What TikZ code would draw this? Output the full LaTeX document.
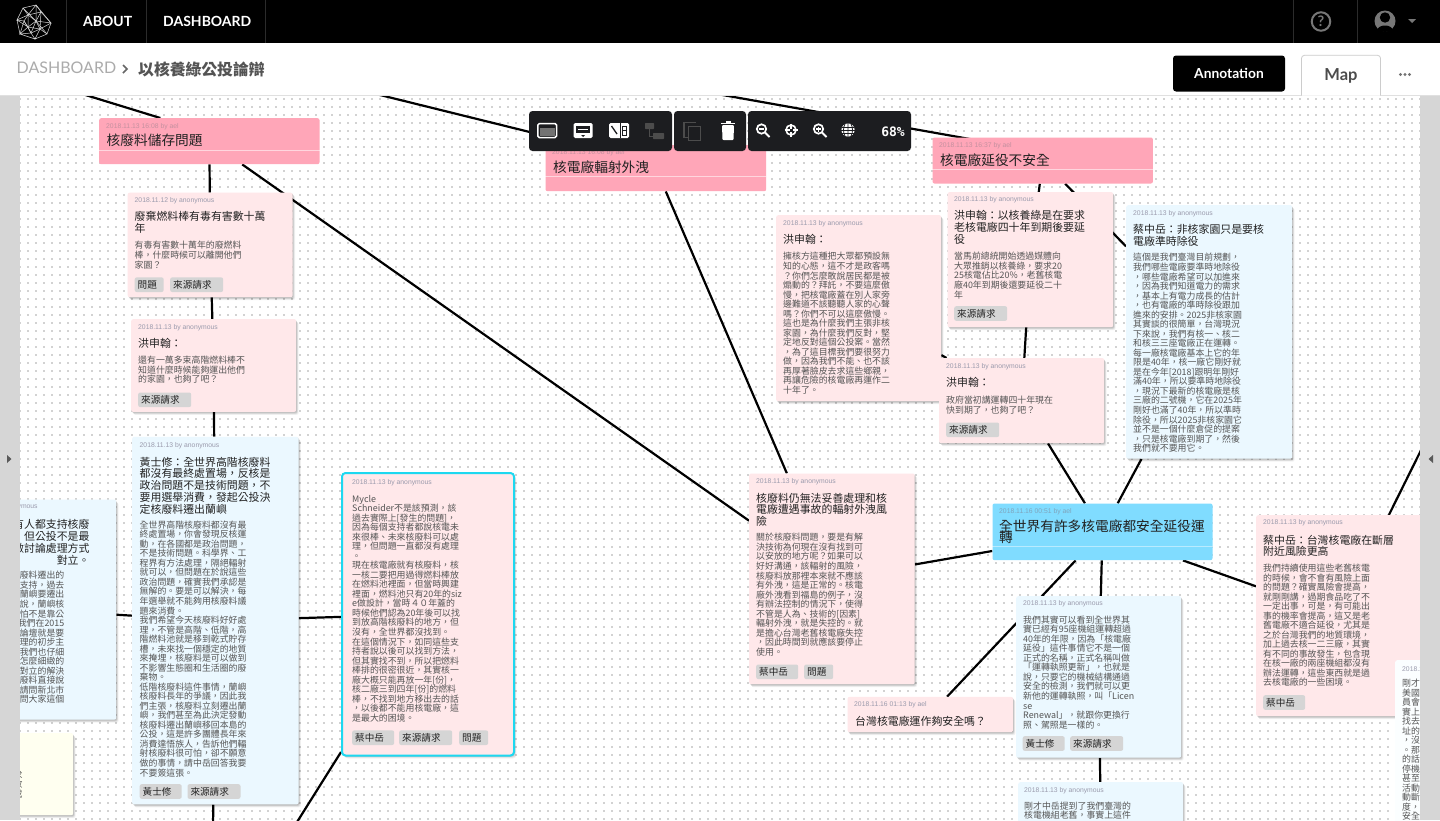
\documentclass[tikz,border=0pt]{standalone}
\usepackage{fontspec}
\setmainfont{Noto Sans CJK TC}
\newfontfamily\latof{Lato}
\newfontfamily\liberf{Liberation Sans}
\newfontfamily\monof{DejaVu Sans Mono}
\usetikzlibrary{shadows,backgrounds}
\newcommand{\tightls}{\lineskiplimit=-20pt\relax}
\definecolor{pinkcard}{HTML}{FFE8EA}
\definecolor{bluecard}{HTML}{EBF8FF}
\definecolor{yellowcard}{HTML}{FFFFF0}
\definecolor{whitecard}{HTML}{FBFEFF}
\definecolor{pinkhead}{HTML}{FFA6B8}
\definecolor{bluehead}{HTML}{80DCFF}
\definecolor{selcyan}{HTML}{1DD8F0}
\definecolor{datecol}{HTML}{9A9AAC}
\definecolor{bodycol}{HTML}{555555}
\definecolor{titlecol}{HTML}{222222}
\definecolor{tagfill}{HTML}{D5D5D5}
\definecolor{toolbg}{HTML}{1C1D20}
\definecolor{sidebar}{HTML}{D6D6D6}
\definecolor{dotcol}{HTML}{D2D2D2}
\definecolor{navgray}{HTML}{777777}
\tikzset{
  softshadow/.style={
    general shadow={fill=black,opacity=.05,shadow xshift=2.4pt,shadow yshift=-3pt},
    general shadow={fill=black,opacity=.08,shadow xshift=1.6pt,shadow yshift=-2.2pt},
    general shadow={fill=black,opacity=.10,shadow xshift=1pt,shadow yshift=-1.4pt},
    general shadow={fill=black,opacity=.07,shadow xshift=.5pt,shadow yshift=-.5pt}},
  cardst/.style={rectangle,rounded corners=2pt,anchor=north west,inner sep=0pt,softshadow},
  headst/.style={rectangle,rounded corners=2pt,anchor=north west,inner sep=0pt},
  datest/.style={anchor=west,inner sep=0pt,text=datecol,font=\liberf\fontsize{6.8pt}{8pt}\selectfont},
  titlest/.style={anchor=north west,inner sep=0pt,align=left,text=titlecol,
    font=\fontsize{10.9pt}{11.7pt}\selectfont\tightls},
  bodyst/.style={anchor=north west,inner sep=0pt,align=left,text=bodycol,
    font=\fontsize{8.9pt}{9.53pt}\selectfont\tightls},
  headtitle/.style={anchor=north west,inner sep=0pt,align=left,text=titlecol,
    font=\fontsize{13.7pt}{11pt}\selectfont\tightls},
  tagst/.style={rectangle,rounded corners=2pt,fill=tagfill,anchor=north west,inner xsep=3pt,inner ysep=0pt,
    minimum height=14.6pt,align=left,text=titlecol,font=\fontsize{9.6pt}{10pt}\selectfont},
  conn/.style={line width=2.2pt,black},
}
% name x y w h fill
\newcommand{\cardbox}[6]{\node[cardst,fill=#6,minimum width=#4pt,minimum height=#5pt] (#1) at (#2,#3) {};}
\newcommand{\headbox}[6]{\node[headst,fill=#6,minimum width=#4pt,minimum height=#5pt] (#1) at (#2,#3) {};}
% name x yc text
\newcommand{\cdate}[4]{\node[datest] (#1) at (#2,#3) {#4};}
\newcommand{\ctitle}[4]{\node[titlest] (#1) at (#2,#3-5.5) {#4};}
\newcommand{\cbody}[4]{\node[bodyst] (#1) at (#2,#3-4.5) {#4};}
% name x y w text
\newcommand{\ctag}[5]{\node[tagst,text width=\dimexpr#4pt-6pt\relax] (#1) at (#2,#3) {#5};}
\begin{document}
\begin{tikzpicture}[x=1pt,y=-1pt]
\useasboundingbox (0,0) rectangle (1440,820);

% ---------- left cards ----------
\cardbox{left}{-50}{499.5}{166}{220}{bluecard}
\cdate{leftd}{2.3}{507.7}{anonymous}
\node[titlest,align=right,anchor=north east] (leftt) at (89.7,519.5) {有人都支持核廢\\，但公投不是最\\做討論處理方式\\對立。\hspace{4em}};
\node[bodyst,align=right,anchor=north east] (leftb) at (64.5,571.2) {廢料遷出的\\支持，過去\\蘭嶼要遷出\\說，蘭嶼核\\怕不是靠公\\我們在2015\\論壇就是要\\理的初步主\\我們也仔細\\怎麼細緻的\\對立的解決\\廢料直接說\\請問新北市\\問大家這個};
\cardbox{yellow}{-50}{733}{123}{82}{yellowcard}
\node[bodyst,align=right,anchor=north east] (yellowb) at (22.8,770.5) {求\\政\\或};

% ---------- heading nodes ----------
\headbox{hone}{99}{118}{220.3}{46}{pinkhead}
\cdate{honed}{106}{126.7}{\textcolor[HTML]{C4909F}{2018.11.13 16:08 by ael}}
\node[headtitle] (honet) at (106.5,134.2) {核廢料儲存問題};
\draw[white,opacity=.55,line width=.5pt] (hone.west |- 0,150) -- (hone.east |- 0,150);

\headbox{htwo}{545.3}{145}{220.7}{46}{pinkhead}
\cdate{htwod}{552}{153}{\textcolor[HTML]{C4909F}{2018.11.13 16:08 by ael}}
\node[headtitle] (htwot) at (553,160.5) {核電廠輻射外洩};
\draw[white,opacity=.55,line width=.5pt] (htwo.west |- 0,176.7) -- (htwo.east |- 0,176.7);

\headbox{hthree}{932.3}{137.3}{220.4}{46}{pinkhead}
\cdate{hthreed}{939}{145.7}{\textcolor[HTML]{C4909F}{2018.11.13 16:37 by ael}}
\node[headtitle] (hthreet) at (940,153.2) {核電廠延役不安全};
\draw[white,opacity=.55,line width=.5pt] (hthree.west |- 0,169.3) -- (hthree.east |- 0,169.3);

\headbox{hfour}{992.3}{503.3}{220}{56.7}{bluehead}
\cdate{hfourd}{999}{511.7}{\textcolor[HTML]{7FA4BC}{2018.11.16 00:51 by ael}}
\node[headtitle] (hfourt) at (999,519.9) {全世界有許多核電廠都安全延役運\\轉};
\draw[white,opacity=.45,line width=.5pt] (hfour.west |- 0,546) -- (hfour.east |- 0,546);

% ---------- column one ----------
\cardbox{cone}{127.5}{192.5}{165}{104.5}{pinkcard}
\cdate{coned}{134.5}{200.6}{2018.11.12 by anonymous}
\ctitle{conet}{134.5}{217}{廢棄燃料棒有毒有害數十萬\\年}
\cbody{coneb}{134.5}{245.7}{有毒有害數十萬年的廢燃料\\棒，什麼時候可以離開他們\\家園？}
\ctag{conea}{134.5}{277.2}{29}{問題}
\ctag{coneg}{170}{277.2}{53}{來源請求}

\cardbox{ctwo}{131}{319}{165}{92.7}{pinkcard}
\cdate{ctwod}{138}{327.3}{2018.11.13 by anonymous}
\ctitle{ctwot}{138}{344}{洪申翰：}
\cbody{ctwob}{138}{360.7}{還有一萬多束高階燃料棒不\\知道什麼時候能夠運出他們\\的家園，也夠了吧？}
\ctag{ctwog}{138}{392.3}{53}{來源請求}

\cardbox{cthree}{132}{436.7}{166.3}{367.5}{bluecard}
\cdate{cthreed}{139.5}{445.7}{2018.11.13 by anonymous}
\ctitle{cthreet}{139.5}{462.3}{黃士修：全世界高階核廢料\\都沒有最終處置場，反核是\\政治問題不是技術問題，不\\要用選舉消費，發起公投決\\定核廢料遷出蘭嶼}
\cbody{cthreeb}{139.5}{525}{全世界高階核廢料都沒有最\\終處置場，你會發現反核運\\動，在各國都是政治問題，\\不是技術問題。科學界、工\\程界有方法處理，隔絕輻射\\就可以，但問題在於說這些\\政治問題，確實我們承認是\\無解的。要是可以解決，每\\年選舉就不能夠用核廢料議\\題來消費。\\我們希望今天核廢料好好處\\理，不管是高階、低階，高\\階燃料池就是移到乾式貯存\\槽，未來找一個穩定的地質\\來掩埋，核廢料是可以做到\\不影響生態圈和生活圈的廢\\棄物。\\低階核廢料這件事情，蘭嶼\\核廢料長年的爭議，因此我\\們主張，核廢料立刻遷出蘭\\嶼，我們甚至為此決定發動\\核廢料遷出蘭嶼移回本島的\\公投，這是許多團體長年來\\消費達悟族人，告訴他們輻\\射核廢料很可怕，卻不願意\\做的事情，請中岳回答我要\\不要簽這張。}
\ctag{cthreea}{139.5}{784}{42}{黃士修}
\ctag{cthreeg}{187.3}{784}{53}{來源請求}

% ---------- selected card ----------
\node[cardst,fill=pinkcard,draw=selcyan,line width=2pt,rounded corners=3.5pt,minimum width=172pt,minimum height=282.5pt] (myc) at (341,472) {};
\cdate{mycd}{352}{483}{2018.11.13 by anonymous}
\cbody{mycb}{352}{499.3}{Mycle\\Schneider不是該預測，該\\過去實際上[發生的問題]，\\因為每個支持者都說核電未\\來很棒、未來核廢料可以處\\理，但問題一直都沒有處理\\。\\現在核電廠就有核廢料，核\\一核二要把用過得燃料棒放\\在燃料池裡面，但當時興建\\裡面，燃料池只有20年的siz\\e做設計，當時４０年蓋的\\時候他們認為20年後可以找\\到放高階核廢料的地方，但\\沒有，全世界都沒找到。\\在這個情況下，如同這些支\\持者說以後可以找到方法，\\但其實找不到，所以把燃料\\棒排的很密很近，其實核一\\廠大概只能再放一年[份]，\\核二廠三到四年[份]的燃料\\棒，不找到地方移出去的話\\，以後都不能用核電廠，這\\是最大的困境。}
\ctag{myca}{352}{730.2}{42}{蔡中岳}
\ctag{mycg}{399}{730.2}{53}{來源請求}
\ctag{mycq}{459}{730.2}{29}{問題}

% ---------- middle ----------
\cardbox{kf}{749}{473.3}{165.5}{210.7}{pinkcard}
\cdate{kfd}{756}{481.7}{2018.11.13 by anonymous}
\ctitle{kft}{756}{498.3}{核廢料仍無法妥善處理和核\\電廠遭遇事故的輻射外洩風\\險}
\cbody{kfb}{756}{537.7}{關於核廢料問題，要是有解\\決技術為何現在沒有找到可\\以安放的地方呢？如果可以\\好好溝通，該輻射的風險，\\核廢料放那裡本來就不應該\\有外洩，這是正常的。核電\\廠外洩看到福島的例子，沒\\有辦法控制的情況下，使得\\不管是人為、技術的[因素]\\輻射外洩，就是失控的。就\\是擔心台灣老舊核電廠失控\\，因此時間到就應該要停止\\使用。}
\ctag{kfa}{756}{664.3}{42}{蔡中岳}
\ctag{kfq}{804}{664.3}{29}{問題}

\cardbox{tw}{847.3}{696.7}{165.5}{35.3}{pinkcard}
\cdate{twd}{854}{705}{2018.11.16 01:13 by ael}
\ctitle{twt}{855}{721}{台灣核電廠運作夠安全嗎？}

\cardbox{lng}{776}{215}{165}{186}{pinkcard}
\cdate{lngd}{783}{223.3}{2018.11.13 by anonymous}
\ctitle{lngt}{783}{240}{洪申翰：}
\cbody{lngb}{783}{256.7}{擁核方這種把大眾都預設無\\知的心態，這不才是政客嗎\\？你們怎麼敢說居民都是被\\煽動的？拜託，不要這麼傲\\慢，把核電廠蓋在別人家旁\\邊難道不該聽聽人家的心聲\\嗎？你們不可以這麼傲慢。\\這也是為什麼我們主張非核\\家園，為什麼我們反對，堅\\定地反對這個公投案。當然\\，為了這目標我們要很努力\\做，因為我們不能、也不該\\再厚著臉皮去求這些鄉親，\\再讓危險的核電廠再運作二\\十年了。}

\cardbox{ext}{947.3}{192}{165.7}{135}{pinkcard}
\cdate{extd}{954}{200}{2018.11.13 by anonymous}
\ctitle{extt}{954}{216}{洪申翰：以核養綠是在要求\\老核電廠四十年到期後要延\\役}
\cbody{extb}{954}{256.7}{當馬前總統開始透過媒體向\\大眾推銷以核養綠，要求20\\25核電佔比20\%，老舊核電\\廠40年到期後還要延役二十\\年}
\ctag{extg}{954}{306}{53}{來源請求}

\cardbox{sml}{939}{358}{165}{85}{pinkcard}
\cdate{smld}{946}{366.7}{2018.11.13 by anonymous}
\ctitle{smlt}{946}{383}{洪申翰：}
\cbody{smlb}{946}{400.7}{政府當初講運轉四十年現在\\快到期了，也夠了吧？}
\ctag{smlg}{946}{422.3}{53}{來源請求}

\cardbox{cai}{1126}{205}{166}{253.5}{bluecard}
\cdate{caid}{1133}{213.5}{2018.11.13 by anonymous}
\ctitle{cait}{1133}{230}{蔡中岳：非核家園只是要核\\電廠準時除役}
\cbody{caib}{1133}{257.7}{這個是我們臺灣目前規劃，\\我們哪些電廠要準時地除役\\，哪些電廠希望可以加進來\\，因為我們知道電力的需求\\，基本上有電力成長的估計\\，也有電廠的準時除役跟加\\進來的安排。2025非核家園\\其實談的很簡單，台灣現況\\下來說，我們有核一、核二\\和核三三座電廠正在運轉。\\每一廠核電廠基本上它的年\\限是40年，核一廠它剛好就\\是在今年[2018]跟明年剛好\\滿40年，所以要準時地除役\\，現況下最新的核電廠是核\\三廠的二號機，它在2025年\\剛好也滿了40年，所以準時\\除役，所以2025非核家園它\\並不是一個什麼倉促的提案\\，只是核電廠到期了，然後\\我們就不要用它。}

% ---------- lower right ----------
\cardbox{wei}{1016}{596}{165}{161.5}{bluecard}
\cdate{weid}{1023}{603.7}{2018.11.13 by anonymous}
\cbody{weib}{1023}{620}{我們其實可以看到全世界其\\實已經有95座機組運轉超過\\40年的年限，因為「核電廠\\延役」這件事情它不是一個\\正式的名稱，正式名稱叫做\\「運轉執照更新」，也就是\\說，只要它的機械結構通過\\安全的檢測，我們就可以更\\新他的運轉執照，叫「Licen\\se\\Renewal」，就跟你更換行\\照、駕照是一樣的。}
\ctag{weia}{1022.5}{736}{42}{黃士修}
\ctag{weig}{1070}{736}{53}{來源請求}

\cardbox{gang}{1018}{782}{165}{60}{bluecard}
\cdate{gangd}{1024}{790.7}{2018.11.13 by anonymous}
\cbody{gangb}{1024}{806}{剛才中岳提到了我們臺灣的\\核電機組老舊，事實上這件}

\cardbox{fault}{1256}{515}{166}{201}{pinkcard}
\cdate{faultd}{1263}{523}{2018.11.13 by anonymous}
\ctitle{faultt}{1263}{540}{蔡中岳：台灣核電廠在斷層\\附近風險更高}
\cbody{faultb}{1263}{568.3}{我們持續使用這些老舊核電\\的時候，會不會有風險上面\\的問題？確實風險會提高，\\就剛剛講，過期食品吃了不\\一定出事，可是，有可能出\\事的機率會提高，這又是老\\舊電廠不適合延役，尤其是\\之於台灣我們的地質環境，\\加上過去核一二三廠，其實\\有不同的事故發生，包含現\\在核一廠的兩座機組都沒有\\辦法運轉，這些東西就是過\\去核電廠的一些困境。}
\ctag{faulta}{1263}{695}{42}{蔡中岳}

\cardbox{edge}{1395}{660}{166}{180}{whitecard}
\cdate{edged}{1402}{668.7}{2018.11.13}
\cbody{edgeb}{1402}{683.3}{剛才\\美國\\員會\\實上\\找去\\址的\\，沒\\。那\\的話\\停機\\甚至\\活動\\動斷\\度，\\安全}

% ---------- canvas and connectors, behind the cards ----------
\begin{scope}[on background layer]
  \fill[white] (0,0) rectangle (1440,820);
  \foreach \k in {0,...,90} {
    \draw[dotcol,line width=2pt,dash pattern=on 2pt off 6pt] (19,98.7+8*\k) -- (1420,98.7+8*\k);
  }
  \coordinate (tone) at (40,81);
  \coordinate (ttwo) at (340,85.1);
  \coordinate (tthree) at (680,87.4);
  \coordinate (bthree) at (213,830);
  \coordinate (bmyc) at (292,830);
  \coordinate (rfault) at (1430,432);
  \draw[conn] (tone) -- ([xshift=-49pt]hone.north);
  \draw[conn] (ttwo) -- ([yshift=5pt]htwo.center);
  \draw[conn] (tthree) -- ([yshift=8.5pt]hthree.center);
  \draw[conn] (hone) -- (cone);
  \draw[conn] (cone) -- (ctwo);
  \draw[conn] (ctwo) -- (cthree);
  \draw[conn] (cthree) -- (bthree);
  \draw[conn] (left) -- (cthree);
  \draw[conn] (cthree) -- (myc);
  \draw[conn] (myc) -- (bmyc);
  \draw[conn] (hone) -- (kf);
  \draw[conn] (htwo) -- (kf);
  \draw[conn] (kf) -- (hfour);
  \draw[conn] (hthree) -- (ext);
  \draw[conn] (hthree) -- (cai);
  \draw[conn] (ext) -- (sml);
  \draw[conn] (lng) -- (sml);
  \draw[conn] (sml) -- (hfour);
  \draw[conn] (cai) -- (hfour);
  \draw[conn] (hfour) -- (wei);
  \draw[conn] (hfour) -- (tw);
  \draw[conn] (hfour) -- (fault);
  \draw[conn] (wei) -- (gang);
  \draw[conn] (fault) -- (rfault);
\end{scope}

% ---------- side bars ----------
\fill[sidebar] (0,95) rectangle (20,820);
\fill[sidebar] (1420,95) rectangle (1440,820);
\fill[black!65] (7,455) -- (11.5,459) -- (7,463) -- cycle;
\fill[black!65] (1433,455) -- (1428.5,459) -- (1433,463) -- cycle;

% ---------- header ----------
\fill[white] (0,43) rectangle (1440,95);
\fill[black] (0,0) rectangle (1440,43);
\draw[black!12,line width=.8pt] (0,95) -- (1440,95);
\foreach \xx in {66.5,146.5,265.5,1293.5,1357.5} {\draw[white!17!black,line width=.6pt] (\xx,0) -- (\xx,43);}
% logo
\begin{scope}[draw=white!85!black,line width=.5pt]
  \coordinate (la) at (36,5); \coordinate (lb) at (23,8); \coordinate (lc) at (17,20);
  \coordinate (ld) at (28,15); \coordinate (le) at (41,12); \coordinate (lf) at (36,21);
  \coordinate (lg) at (51,23); \coordinate (lh) at (28,27); \coordinate (li) at (20,34);
  \coordinate (lj) at (35,39); \coordinate (lk) at (47,34); \coordinate (ll) at (40,29);
  \coordinate (lm) at (24,21); \coordinate (ln) at (31,33);
  \draw (la)--(lb)--(lc)--(ld)--(la)--(le)--(lg)--(lf)--(le)--(ld)--(lb);
  \draw (lc)--(lm)--(ld)--(lf)--(lh)--(lm)--(li)--(lh)--(ln)--(lj)--(li)--(ln)--(ll)--(lf);
  \draw (lg)--(lk)--(lj)--(ll)--(lk);
  \draw (lh)--(ll)--(lg) (la)--(lf) (lc)--(li) (le)--(ll) (lb)--(lf) (ld)--(lh) (lf)--(lk) (la)--(lg) (lm)--(ln) (lf)--(ln) (lc)--(lh);
\end{scope}
\node[anchor=west,inner sep=0pt,text=white,font=\latof\bfseries\fontsize{14pt}{16pt}\selectfont] (navabout) at (83,21) {ABOUT};
\node[anchor=west,inner sep=0pt,text=white,font=\latof\bfseries\fontsize{14pt}{16pt}\selectfont] (navdash) at (163,21) {DASHBOARD};
% help and account icons
\node[circle,draw=navgray,line width=2pt,minimum size=18.5pt,inner sep=0pt,text=navgray,font=\latof\bfseries\fontsize{14.5pt}{15pt}\selectfont] (helpq) at (1321,21.5) {?};
\node[circle,fill=navgray,minimum size=21pt,inner sep=0pt] (acct) at (1385,21) {};
\fill[black] (1385,17.5) circle (5.2);
\fill[black] (1377.5,30) .. controls (1378,24) and (1392,24) .. (1392.5,30) .. controls (1390,32.5) and (1380,32.5) .. cycle;
\fill[navgray] (1408,19) -- (1416,19) -- (1412,23) -- cycle;

\node[anchor=west,inner sep=0pt,text=black!33,font=\latof\fontsize{16pt}{18pt}\selectfont] (crumb) at (16.5,68) {DASHBOARD};
\draw[black!60,line width=1.5pt] (123,65) -- (127,69) -- (123,73);
\node[anchor=west,inner sep=0pt,text=black!67,font=\bfseries\fontsize{15.8pt}{18pt}\selectfont] (crumbt) at (138,69) {以核養綠公投論辯};

\node[fill=black,rounded corners=3pt,minimum width=112pt,minimum height=36pt,inner sep=0pt,text=white,font=\latof\bfseries\fontsize{13.8pt}{15pt}\selectfont] (annot) at (1229,73.5) {Annotation};
\draw[black!20,line width=.8pt,fill=white,rounded corners=3pt] (1301.5,95.5) -- (1301.5,55.3) -- (1380.5,55.3) -- (1380.5,95.5);
\node[inner sep=0pt,text=black!70,font=\latof\bfseries\fontsize{16.5pt}{18pt}\selectfont] (maptab) at (1341,76) {Map};
\foreach \xx in {1400.5,1405,1409.5} {\fill[black!55] (\xx,74.5) circle (1.7);}

% ---------- toolbar ----------
\fill[toolbg,rounded corners=3.5pt] (529,111) rectangle (672,151);
\fill[toolbg,rounded corners=3.5pt] (674,111) rectangle (746,151);
\fill[toolbg,rounded corners=3.5pt] (748,111) rectangle (911,151);
% window
\draw[white,line width=1.5pt,rounded corners=1.5pt] (537.8,123.5) rectangle (556.5,137.5);
\fill[black!55] (540,128) rectangle (554.5,135.5);
% card
\fill[white,rounded corners=1.5pt] (573.5,123) rectangle (592.5,138);
\fill[toolbg] (576,126) rectangle (590,133);
\fill[white] (578,128.6) rectangle (588,130);
\fill[toolbg] (581,135) -- (585,135) -- (583,137) -- cycle;
% side panel
\fill[white,rounded corners=1.5pt] (609,123) rectangle (629,138);
\draw[toolbg,line width=1.3pt] (611.5,126) -- (617,134);
\fill[toolbg] (619.5,123) rectangle (620.8,138);
\draw[toolbg,line width=1pt] (622.8,126) rectangle (626.5,135);
\fill[toolbg] (622.8,129.8) rectangle (626.5,131);
% linked boxes
\fill[black!70,rounded corners=.6pt] (645,123) rectangle (654,129);
\fill[black!70,rounded corners=.6pt] (653,133) rectangle (664,139);
\draw[black!70,line width=1pt] (649.5,129) -- (649.5,136) -- (653,136);
% copy
\draw[black!70,line width=1.7pt] (689,137.5) -- (684,137.5) -- (684,122.5) -- (696,122.5);
\draw[black!70,line width=1.7pt] (688.5,126.5) rectangle (700.5,140.5);
% trash
\fill[white,rounded corners=1pt] (722,125) -- (734,125) -- (733.5,140) -- (722.5,140) -- cycle;
\fill[white] (721,122.5) rectangle (735,124);
\fill[white] (725.5,121) rectangle (730.5,123);
% zoom out
\draw[white,line width=1.7pt] (761.5,129) circle (4.7);
\draw[white,line width=2pt] (765,132.5) -- (769.5,137);
\draw[white,line width=1.3pt] (759,129) -- (764,129);
% target
\draw[white,line width=1.6pt] (791,130) circle (5);
\draw[white,line width=1.5pt] (791,123.5) -- (791,136.5) (784.5,130) -- (797.5,130);
\fill[toolbg] (789.5,128.5) rectangle (792.5,131.5);
% zoom in
\draw[white,line width=1.7pt] (818.5,129) circle (4.7);
\draw[white,line width=2pt] (822,132.5) -- (826.5,137);
\draw[white,line width=1.3pt] (816,129) -- (821,129) (818.5,126.5) -- (818.5,131.5);
% globe
\fill[white] (848,130) circle (6.6);
\draw[toolbg,line width=.8pt] (841,130) -- (855,130) (842,127) -- (854,127) (842,133) -- (854,133);
\draw[toolbg,line width=.8pt] (848,123) -- (848,137) (845,124) .. controls (843,127) and (843,133) .. (845,136) (851,124) .. controls (853,127) and (853,133) .. (851,136);
\node[anchor=east,inner sep=0pt,text=white,font=\monof\bfseries\fontsize{13pt}{14pt}\selectfont] (zoomval) at (905,131.5) {68\%};
\end{tikzpicture}
\end{document}
